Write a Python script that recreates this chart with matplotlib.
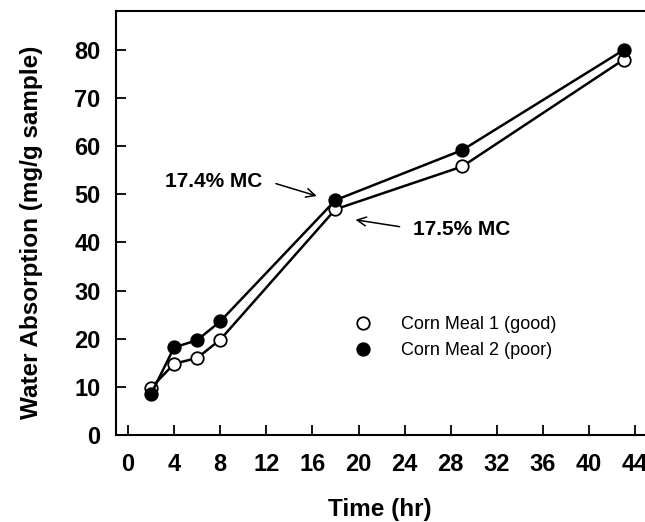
import matplotlib.pyplot as plt
from matplotlib.lines import Line2D

# time (hr) and water absorption (mg/g sample)
time_good = [2, 4, 6, 8, 18, 29, 43]
absorb_good = [9.8, 14.8, 16.0, 19.8, 46.9, 55.8, 78.0]
time_poor = [2, 4, 6, 8, 18, 29, 43]
absorb_poor = [8.5, 18.2, 19.7, 23.6, 48.8, 59.2, 80.0]

label_good = 'Corn Meal 1 (good)'
label_poor = 'Corn Meal 2 (poor)'
xticks = list(range(0, 45, 4))
yticks = list(range(0, 81, 10))

plt.rcParams['font.family'] = ['Liberation Sans', 'DejaVu Sans']

fig = plt.figure(figsize=(6.45, 5.22), dpi=100)
ax = fig.add_axes([116 / 645, 87 / 522, 529 / 645, 424 / 522])

ax.plot(time_good, absorb_good, color='black', lw=1.8, marker='o', ms=9,
        mfc='white', mec='black', mew=1.3, zorder=3)
ax.plot(time_poor, absorb_poor, color='black', lw=1.8, marker='o', ms=9,
        mfc='black', mec='black', mew=1.3, zorder=4)

ax.set_xlim(-1.04, 44.85)
ax.set_ylim(0, 88.1)
ax.set_xticks(xticks)
ax.set_yticks(yticks)
ax.tick_params(direction='in', length=7, width=1.3, labelsize=17, pad=11)
ax.tick_params(axis='x', pad=13)
for lab in ax.get_xticklabels() + ax.get_yticklabels():
    lab.set_fontweight('bold')

for s in ['left', 'bottom', 'top']:
    ax.spines[s].set_linewidth(1.5)
ax.spines['right'].set_visible(False)

ax.set_xlabel('Time (hr)', fontsize=17.5, fontweight='bold')
ax.set_ylabel('Water Absorption (mg/g sample)', fontsize=17.5, fontweight='bold')
ax.xaxis.set_label_coords(0.499, -0.148)
ax.yaxis.set_label_coords(-0.138, 0.479)

# moisture content notes
ax.annotate('', xy=(16.6, 49.5), xytext=(12.6, 52.4),
            arrowprops=dict(arrowstyle='->', lw=1.1, color='black',
                            mutation_scale=16))
ax.text(11.7, 52.7, '17.4% MC', fontsize=15, fontweight='bold',
        ha='right', va='center')
ax.annotate('', xy=(19.5, 44.8), xytext=(23.8, 43.2),
            arrowprops=dict(arrowstyle='->', lw=1.1, color='black',
                            mutation_scale=16))
ax.text(24.7, 42.8, '17.5% MC', fontsize=15, fontweight='bold',
        ha='left', va='center')

handles = [
    Line2D([], [], ls='none', marker='o', ms=9, mfc='white', mec='black', mew=1.3),
    Line2D([], [], ls='none', marker='o', ms=9, mfc='black', mec='black', mew=1.3),
]
ax.legend(handles, [label_good, label_poor], loc='upper left',
          bbox_to_anchor=(0.45, 0.28), frameon=False, fontsize=13,
          borderpad=0, borderaxespad=0, handlelength=1, handletextpad=1.6,
          labelspacing=0.5)

fig.savefig('out.png', dpi=100)
